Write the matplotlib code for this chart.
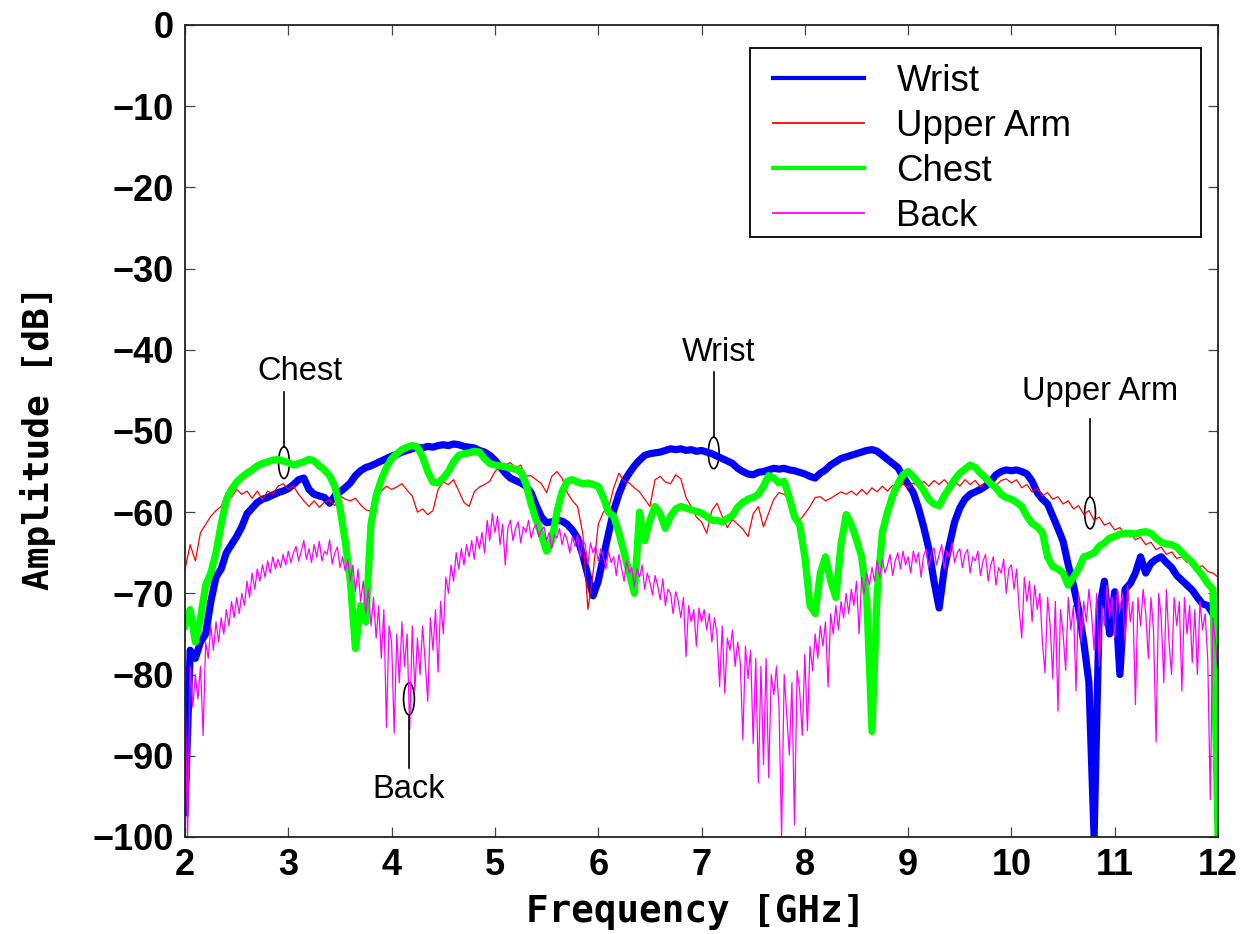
import matplotlib
matplotlib.use("Agg")
import matplotlib.pyplot as plt
from matplotlib.lines import Line2D
from matplotlib.patches import Ellipse, Rectangle
import numpy as np

# measurement grid (GHz)
freq = np.linspace(2, 12, 201)        # 0.05 GHz step
freq_fine = np.linspace(2, 12, 401)   # 0.025 GHz step (Back)

# one row per GHz, 20 samples per row + end point
wrist = [
    -97, -77, -78, -76, -75, -71, -68, -67, -65, -64, -63, -61.8, -60.2, -59.5, -58.8, -58.4, -58.2, -57.9, -57.6, -57.4,
    -57.1, -56.6, -56.0, -55.8, -57.2, -57.8, -58.0, -58.2, -58.9, -58.0, -57.5, -57.0, -56.4, -55.5, -54.9, -54.5, -54.3, -54.0, -53.7, -53.4,
    -53.1, -52.9, -52.6, -52.4, -52.2, -52.0, -52.1, -51.9, -52.0, -51.8, -51.7, -51.8, -51.6, -51.7, -51.9, -52.0, -52.1, -52.4, -52.6, -53.0,
    -53.6, -54.4, -55.2, -55.8, -56.1, -56.4, -56.8, -57.6, -59.2, -60.6, -61.3, -61.2, -61.0, -61.1, -61.5, -62.2, -63.2, -65.3, -67.8, -70.3,
    -68.5, -65.5, -62.6, -59.8, -57.8, -56.2, -55.2, -54.3, -53.6, -53.0, -52.8, -52.7, -52.6, -52.4, -52.2, -52.3, -52.2, -52.4, -52.3, -52.5,
    -52.4, -52.6, -52.8, -53.1, -53.4, -53.7, -54.0, -54.6, -55.0, -55.3, -55.4, -55.1, -55.0, -54.8, -54.6, -54.7, -54.6, -54.8, -54.9, -55.1,
    -55.3, -55.6, -55.8, -55.2, -54.8, -54.2, -53.8, -53.4, -53.2, -53.0, -52.8, -52.6, -52.4, -52.3, -52.5, -53.0, -53.5, -54.0, -54.5, -55.6,
    -56.6, -57.6, -59.5, -61.8, -64.5, -68.5, -71.8, -67.0, -64.0, -61.2, -59.5, -58.4, -57.8, -57.5, -57.2, -56.8, -56.2, -55.4, -55.0, -54.8,
    -54.9, -54.8, -55.0, -55.3, -56.2, -57.6, -58.4, -59.0, -60.5, -62.0, -63.6, -66.5, -69.0, -72.0, -76.0, -81.0, -100.0, -72.0, -68.5, -75.0,
    -69.8, -80.0, -69.5, -68.8, -67.5, -65.5, -67.5, -66.3, -65.8, -65.5, -66.2, -66.8, -67.8, -68.4, -69.0, -69.6, -70.5, -71.3, -71.5, -72.5,
    -73.0,
]

upper_arm = [
    -67, -64, -66, -62.5, -61.5, -60.5, -59.8, -59.3, -57.6, -58.2, -57.2, -57.8, -57.4, -58.3, -57.4, -58.5, -57.4, -57.8, -56.8, -56.5,
    -57.2, -56.8, -57.8, -58.6, -59.3, -58.6, -59.4, -58.8, -58.5, -59.2, -58.0, -58.4, -58.6, -58.3, -59.1, -59.7, -59.9, -58.1, -57.4, -56.8,
    -57.2, -56.9, -56.5, -57.3, -58.0, -60.0, -59.6, -60.3, -59.8, -57.2, -56.3, -56.6, -56.0, -57.4, -58.8, -59.3, -57.5, -56.9, -56.6, -56.2,
    -55.0, -54.4, -54.2, -53.9, -54.6, -54.2, -55.6, -55.5, -56.0, -56.5, -57.6, -55.6, -55.0, -55.8, -57.6, -58.6, -59.3, -62.6, -72.0, -67.5,
    -61.5, -60.0, -59.5, -57.0, -55.2, -56.2, -56.4, -57.0, -57.5, -58.4, -59.3, -56.0, -55.6, -56.3, -56.5, -55.4, -55.9, -58.2, -59.3, -60.6,
    -61.2, -62.6, -59.8, -58.9, -60.5, -61.9, -60.9, -61.5, -62.1, -63.0, -60.2, -59.3, -61.8, -60.1, -58.4, -57.6, -57.8, -58.5, -59.8, -61.0,
    -60.2, -59.3, -58.2, -58.1, -58.6, -58.3, -57.9, -57.5, -57.8, -57.4, -57.9, -57.2, -57.8, -57.0, -57.5, -56.8, -57.4, -56.7, -57.2, -56.5,
    -57.0, -56.4, -56.9, -56.2, -56.8, -56.1, -56.6, -56.0, -56.7, -56.2, -56.8, -56.0, -56.6, -56.1, -56.9, -56.3, -56.0, -56.7, -56.1, -55.9,
    -56.4, -56.0, -57.0, -56.6, -57.5, -57.1, -58.0, -57.6, -58.4, -58.1, -59.0, -58.6, -59.6, -59.2, -60.3, -59.8, -61.0, -60.6, -61.6, -61.3,
    -62.2, -61.9, -62.8, -62.5, -63.4, -63.1, -64.0, -63.7, -64.6, -64.3, -65.2, -64.9, -65.7, -65.5, -66.2, -66.0, -66.8, -66.6, -67.3, -67.5,
    -68.0,
]

chest = [
    -74, -72, -76, -73, -69, -67.5, -65, -61.5, -58.5, -57.2, -56.3, -55.7, -55.2, -54.8, -54.3, -54.0, -53.8, -53.6, -53.5, -53.7,
    -53.9, -54.2, -54.0, -53.8, -53.5, -53.7, -54.3, -54.8, -55.5, -56.8, -59.5, -63.5, -68.5, -76.8, -71.5, -73.5, -61.5, -58.0, -56.0, -54.5,
    -53.4, -52.8, -52.3, -52.0, -51.8, -52.0, -53.2, -55.0, -56.3, -56.4, -55.8, -55.0, -53.8, -53.0, -52.8, -52.7, -52.5, -52.6, -53.4, -54.0,
    -54.2, -54.3, -54.4, -54.6, -54.7, -55.0, -56.5, -59.0, -61.0, -62.8, -64.8, -63.5, -60.0, -57.5, -56.2, -56.0, -56.3, -56.5, -56.4, -56.6,
    -56.8, -58.2, -60.0, -60.5, -62.5, -65.0, -67.5, -70.0, -60.0, -63.5, -61.0, -59.3, -60.2, -62.0, -60.5, -59.6, -59.3, -59.5, -59.7, -59.9,
    -60.1, -60.5, -61.0, -61.0, -61.2, -60.8, -60.4, -59.4, -58.8, -58.4, -58.2, -57.8, -56.8, -55.5, -55.8, -56.4, -56.2, -58.2, -60.6, -61.5,
    -65.5, -71.5, -72.5, -67.5, -65.5, -68.5, -70.5, -64.0, -60.3, -61.5, -63.4, -65.5, -70.8, -87.0, -70.0, -62.5, -60.0, -58.0, -56.5, -55.4,
    -55.0, -55.6, -56.4, -57.3, -58.4, -59.0, -59.2, -58.0, -57.0, -56.0, -55.2, -54.7, -54.2, -54.5, -55.2, -55.8, -56.5, -57.0, -57.8, -58.2,
    -58.4, -58.8, -59.3, -60.5, -61.4, -61.8, -62.5, -65.5, -66.7, -67.0, -67.5, -69.0, -68.0, -67.0, -65.5, -65.3, -65.0, -64.2, -63.8, -63.2,
    -63.0, -62.7, -62.6, -62.6, -62.7, -62.5, -62.4, -62.6, -63.2, -63.7, -63.9, -64.0, -64.3, -65.0, -65.6, -66.2, -67.0, -67.8, -68.8, -69.5,
    -100.0,
]

# one row per GHz, 40 samples per row + end point
back = [
    -82, -100, -79, -84, -80, -83, -79, -87.5, -76, -78, -74, -77, -73.5, -76, -73, -75, -72, -74, -71, -73,
    -70.5, -72.5, -70, -71.5, -68.5, -70.5, -67.5, -69.5, -67, -68.5, -66.5, -68, -66, -67.5, -65.5, -67, -65.8, -66.8, -65.2, -66.5,
    -64.8, -66.2, -65.0, -64.2, -66.0, -64.8, -63.5, -65.8, -64.5, -66.2, -64.0, -65.5, -63.6, -66.0, -64.8, -65.2, -63.4, -66.4, -65.0, -64.3,
    -66.8, -65.5, -67.2, -65.8, -68.5, -66.5, -69.8, -67.0, -71.0, -68.5, -72.5, -69.5, -74.0, -70.5, -75.5, -71.5, -78.0, -72.0, -86.5, -74.0,
    -76, -87.2, -75, -81, -73.5, -79, -75, -86.8, -74, -82, -75.5, -80, -74, -78.5, -83.3, -73, -77, -72, -79.7, -71,
    -75, -68, -70, -66.5, -68.5, -65, -67, -64.5, -66.5, -64, -65.5, -63.5, -65.8, -63, -64.5, -62.5, -65, -61, -63.5, -60.2,
    -62.5, -60.5, -64, -61.5, -66.5, -62, -61, -63.5, -62, -61.2, -63.8, -61.8, -62.5, -61.0, -63.2, -62.0, -61.5, -63.0, -62.2, -61.8,
    -63.5, -62.5, -64.5, -62.8, -63.2, -62.0, -64.0, -62.6, -63.5, -65.0, -63.0, -64.2, -62.8, -65.5, -63.5, -64.0, -66.5, -63.8, -65.0, -64.2,
    -66.0, -64.5, -65.5, -67.0, -64.8, -66.2, -65.5, -67.8, -65.2, -66.8, -68.5, -66.0, -67.5, -66.8, -69.2, -67.0, -68.0, -66.5, -69.5, -67.5,
    -68.6, -70.2, -67.8, -69.0, -70.8, -68.2, -71.5, -69.5, -70.0, -72.5, -69.8, -71.0, -73.0, -70.5, -77.8, -71.5, -73.5, -72.0, -76.5, -71.8,
    -73.5, -72.0, -74.5, -72.5, -76.0, -73.0, -75.0, -81.5, -74.0, -82.3, -75.5, -77.0, -74.5, -79.0, -76.0, -78.5, -88.0, -76.5, -80.5, -77.0,
    -88.5, -78.0, -93.3, -79.0, -91.1, -78.0, -92.7, -80.0, -82.5, -79.0, -84.0, -100, -80.0, -85.0, -89.9, -81.0, -98.5, -79.5, -82.0, -87.5,
    -77.5, -86.9, -76.5, -79.5, -75.0, -78.0, -74.0, -76.5, -73.5, -81.5, -72.5, -75.0, -71.5, -74.5, -71.0, -73.0, -70.0, -72.5, -69.5, -71.5,
    -68.5, -75.0, -68.0, -70.0, -67.5, -69.0, -66.8, -68.5, -66.0, -68.0, -65.8, -67.5, -66.5, -65.2, -67.8, -66.0, -65.0, -67.0, -64.8, -66.5,
    -65.5, -67.5, -64.8, -66.2, -65.0, -68.0, -65.3, -64.6, -66.8, -65.0, -64.4, -66.5, -65.2, -64.0, -67.0, -64.8, -65.5, -63.8, -66.2, -65.0,
    -64.5, -66.8, -65.2, -64.6, -67.5, -65.5, -66.0, -64.8, -67.8, -66.0, -65.2, -68.5, -66.5, -65.5, -69.0, -66.8, -67.5, -65.8, -70.0, -67.0,
    -66.5, -69.5, -67.0, -72.0, -75.5, -68.0, -71.0, -68.5, -73.5, -69.0, -72.0, -70.0, -76.0, -79.8, -70.5, -74.0, -80.5, -71.0, -84.5, -72.0,
    -75.0, -79.5, -70.5, -74.5, -71.5, -82.0, -70.0, -76.0, -71.0, -73.5, -69.5, -72.5, -77.0, -70.0, -79.0, -71.5, -74.0, -69.0, -73.0, -70.5,
    -75.5, -69.5, -72.0, -70.0, -76.0, -69.0, -73.5, -71.0, -83.7, -70.5, -74.0, -69.5, -72.5, -78.0, -70.5, -74.5, -88.3, -70.0, -73.0, -81.0,
    -69.5, -76.0, -80.0, -70.5, -74.0, -71.0, -82.0, -70.5, -75.0, -71.5, -78.5, -72.0, -80.0, -71.0, -74.5, -72.5, -78.0, -95.4, -73.0, -76.0,
    -80.0,
]

series_names = ["Wrist", "Upper Arm", "Chest", "Back"]
series_colors = ["#0000ff", "#ff0000", "#00ff00", "#ff00ff"]

# annotation: label, text position, ellipse centre, line end (y)
notes = [
    ("Chest", (3.11, -42.7), (2.958, -53.9), -45.2),
    ("Wrist", (7.17, -40.3), (7.118, -52.7), -42.7),
    ("Upper Arm", (10.86, -45.2), (10.761, -60.1), -48.5),
    ("Back", (4.17, -94.2), (4.168, -83.0), -91.5),
]

fig = plt.figure(figsize=(12.4, 9.34), dpi=100)
ax = fig.add_axes([0.1492, 0.1039, 0.8331, 0.8694])

ax.plot(freq, wrist, color=series_colors[0], lw=5.2, solid_joinstyle="round")
ax.plot(freq, upper_arm, color=series_colors[1], lw=0.9)
ax.plot(freq, chest, color=series_colors[2], lw=5.2, solid_joinstyle="round")
ax.plot(freq_fine, back, color=series_colors[3], lw=0.9)

ax.set_xlim(2, 12)
ax.set_ylim(-100, 0)
ax.set_xticks(np.arange(2, 13, 1))
ax.set_yticks(np.arange(-100, 1, 10))
ax.tick_params(direction="in", length=7, width=0.9, color="#444444",
               top=True, right=True, labelsize=26, pad=8)
for lab in ax.get_xticklabels() + ax.get_yticklabels():
    lab.set_fontfamily("Liberation Sans")
    lab.set_fontweight("bold")
for sp in ax.spines.values():
    sp.set_linewidth(1.3)
    sp.set_color("#222222")

fig.text(696 / 1240, 1 - 912 / 934, "Frequency [GHz]", ha="center", va="center",
         family="DejaVu Sans Mono", fontweight="bold", fontsize=27)
fig.text(38 / 1240, 1 - 438 / 934, "Amplitude [dB]", ha="center", va="center",
         rotation=90, family="DejaVu Sans Mono", fontweight="bold", fontsize=26)

# annotations
for label, txt, cen, yend in notes:
    ax.add_patch(Ellipse(cen, 0.105, 3.9, fill=False, ec="black", lw=1.2))
    if yend > cen[1]:
        ax.plot([cen[0], cen[0]], [cen[1] + 1.95, yend], color="black", lw=1.2)
    else:
        ax.plot([cen[0], cen[0]], [cen[1] - 1.95, yend], color="black", lw=1.2)
    ax.text(txt[0], txt[1], label, ha="center", va="center",
            family="Liberation Sans", fontsize=23.5)

# legend box (MATLAB style, wider than its contents)
ax.add_patch(Rectangle((0.547, 0.739), 0.4365, 0.2327, transform=ax.transAxes,
                       fill=True, fc="white", ec="black", lw=1.3, zorder=5))
handles = [Line2D([], [], color=c, lw=w) for c, w in zip(series_colors, [3, 1.3, 3, 1.3])]
leg = ax.legend(handles, series_names, loc="upper left", bbox_to_anchor=(0.569, 0.952),
                frameon=False, borderpad=0, borderaxespad=0, handlelength=2.5,
                handletextpad=0.87, labelspacing=0.27,
                prop={"family": "Liberation Sans", "size": 26.4})
leg.set_zorder(6)

fig.savefig("out.png", dpi=100)
